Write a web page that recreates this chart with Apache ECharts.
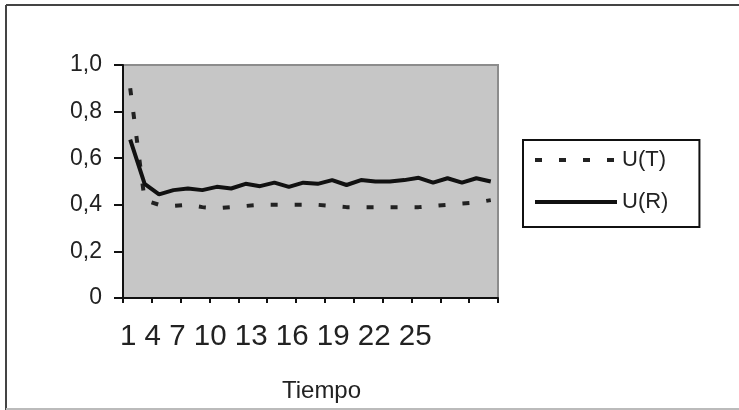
<!DOCTYPE html>
<html>
<head>
<meta charset="utf-8">
<script src="https://cdn.jsdelivr.net/npm/echarts@6/dist/echarts.min.js"></script>
<style>
  html, body { margin: 0; padding: 0; background: #fff; }
  #chart { width: 739px; height: 410px; }
</style>
</head>
<body>
<div id="chart"></div>
<script>
    const categories = ["1","2","3","4","5","6","7","8","9","10","11","12","13","14","15","16","17","18","19","20","21","22","23","24","25","26"];
    const tickLabels = ["1","4","7","10","13","16","19","22","25"];
    const uT = [0.90,0.42,0.40,0.395,0.40,0.39,0.385,0.39,0.395,0.40,0.40,0.40,0.40,0.40,0.395,0.39,0.39,0.39,0.39,0.39,0.39,0.395,0.40,0.405,0.41,0.42];
    const uR = [0.68,0.49,0.445,0.463,0.47,0.463,0.477,0.47,0.49,0.48,0.495,0.477,0.495,0.49,0.506,0.485,0.506,0.50,0.50,0.506,0.516,0.495,0.514,0.495,0.514,0.50];

    const font = "'Liberation Sans', Arial, sans-serif";
    const chart = echarts.init(document.getElementById("chart"));

    chart.setOption({
        backgroundColor: "#fff",
        animation: false,
        textStyle: {fontFamily: font, color: "#222"},
        grid: {
            left: 123, right: 241, top: 65, bottom: 112,
            show: true, backgroundColor: "#c6c6c6",
            borderColor: "#8c8c8c", borderWidth: 2
        },
        xAxis: {
            type: "category",
            data: categories,
            boundaryGap: true,
            name: "Tiempo",
            nameLocation: "middle",
            nameGap: 81,
            nameTextStyle: {fontSize: 24, color: "#222", fontFamily: font, padding: [0, 0, 0, 22]},
            axisLine: {lineStyle: {color: "#111", width: 2}},
            axisTick: {show: true, length: 5, lineStyle: {color: "#111", width: 2}},
            axisLabel: {show: false},
            splitLine: {show: false}
        },
        yAxis: {
            type: "value",
            min: 0, max: 1, interval: 0.2,
            axisLine: {show: true, lineStyle: {color: "#111", width: 2}},
            axisTick: {show: true, length: 9, lineStyle: {color: "#111", width: 2}},
            axisLabel: {
                fontSize: 23, color: "#222", margin: 21, fontFamily: font,
                formatter: v => v === 0 ? "0" : v.toFixed(1).replace(".", ",")
            },
            splitLine: {show: false}
        },
        legend: {
            orient: "vertical",
            left: 523, top: 140,
            borderColor: "#111", borderWidth: 2,
            padding: [9, 31, 14, 10],
            itemWidth: 82, itemHeight: 14, itemGap: 20,
            itemStyle: {opacity: 0},
            lineStyle: {width: 4},
            textStyle: {fontSize: 22, color: "#222", fontFamily: font},
            data: ["U(T)", "U(R)"]
        },
        graphic: [
            {type: "line", shape: {x1: 6, y1: 5, x2: 739, y2: 5}, style: {stroke: "#444", lineWidth: 2}},
            {type: "line", shape: {x1: 6, y1: 5, x2: 6, y2: 410}, style: {stroke: "#444", lineWidth: 2}},
            {type: "line", shape: {x1: 6, y1: 409, x2: 739, y2: 409}, style: {stroke: "#bbb", lineWidth: 2}},
            {
                type: "text", left: 120, top: 322,
                style: {text: tickLabels.join(" "), font: "29.5px " + font, fill: "#222"}
            }
        ],
        series: [
            {
                name: "U(T)", type: "line", data: uT, symbol: "none",
                lineStyle: {color: "#222", width: 4, type: [7, 17]},
                itemStyle: {color: "#222"}
            },
            {
                name: "U(R)", type: "line", data: uR, symbol: "none",
                lineStyle: {color: "#111", width: 4},
                itemStyle: {color: "#111"}
            }
        ]
    });
</script>
</body>
</html>
